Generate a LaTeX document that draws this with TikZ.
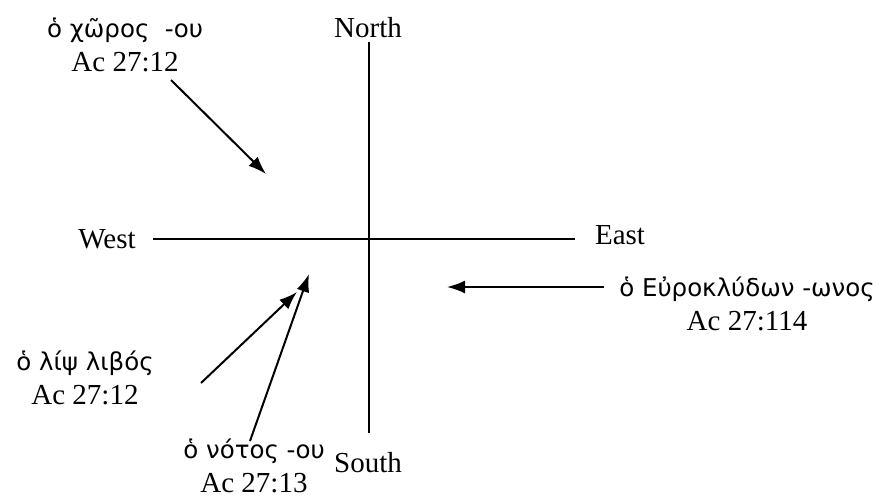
\documentclass[tikz,border=0pt]{standalone}
\usepackage{fontspec}
\setmainfont{Liberation Serif}
\newfontfamily\grk{DejaVu Sans}
\usetikzlibrary{arrows.meta}
\tikzset{
  axis/.style={line width=1.5pt},
  windarrow/.style={line width=2pt,-{Latex[length=18pt,width=13pt]}},
  lbl/.style={font=\fontsize{29}{34}\selectfont,inner sep=0pt,anchor=center},
  wlbl/.style={align=center,inner sep=0pt,font=\fontsize{29}{34}\selectfont},
}
\newcommand{\gk}[1]{{\grk\fontsize{24.5}{34}\selectfont #1}}
\begin{document}
\begin{tikzpicture}[x=1pt,y=-1pt]
\useasboundingbox (0,0) rectangle (889,498);
% axes
\coordinate (n) at (369,42);
\coordinate (s) at (369,433);
\coordinate (w) at (153,239);
\coordinate (e) at (575,239);
\draw[axis] (n) -- (s);
\draw[axis] (w) -- (e);
\node[lbl] (north) at (368,28) {North};
\node[lbl] (south) at (368,463) {South};
\node[lbl] (west) at (107,239) {West};
\node[lbl] (east) at (620,235) {East};
% labels
\node[wlbl] (chor) at (125,45) {\gk{ὁ χῶρος \ -ου}\\Ac 27:12};
\node[wlbl] (euro) at (747,304) {\gk{ὁ Εὐροκλύδων -ωνος}\\Ac 27:114};
\node[wlbl] (lips) at (85,378) {\gk{ὁ λίψ λιβός}\\Ac 27:12};
\node[wlbl] (notos) at (254,466) {\gk{ὁ νότος -ου}\\Ac 27:13};
% arrows
\coordinate (a1s) at (171,80);
\coordinate (a1e) at (266,174);
\coordinate (a2s) at (604,287);
\coordinate (a2e) at (447,287);
\coordinate (a3s) at (201,383);
\coordinate (a3e) at (297,292);
\coordinate (a4s) at (250,441);
\coordinate (a4e) at (309,274);
\draw[windarrow] (a1s) -- (a1e);
\draw[windarrow] (a2s) -- (a2e);
\draw[windarrow] (a3s) -- (a3e);
\draw[windarrow] (a4s) -- (a4e);
\end{tikzpicture}
\end{document}
